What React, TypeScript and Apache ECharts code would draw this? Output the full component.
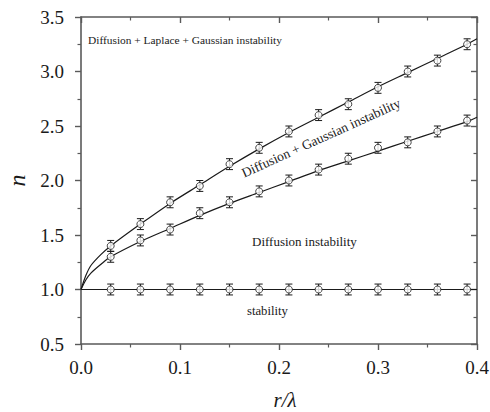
import React, { useEffect, useRef } from "react";
import * as echarts from "echarts";

// measured points (r/λ, n)
const xValues = [0.03, 0.06, 0.09, 0.12, 0.15, 0.18, 0.21, 0.24, 0.27, 0.3, 0.33, 0.36, 0.39];
const upperN = [1.4, 1.6, 1.8, 1.95, 2.15, 2.3, 2.45, 2.6, 2.7, 2.85, 3.0, 3.1, 3.25];
const middleN = [1.3, 1.45, 1.55, 1.7, 1.8, 1.9, 2.0, 2.1, 2.2, 2.3, 2.35, 2.45, 2.55];
const stableN = [1.0, 1.0, 1.0, 1.0, 1.0, 1.0, 1.0, 1.0, 1.0, 1.0, 1.0, 1.0, 1.0];
const errN = 0.05;

// fitted curves
const upperFitX = [0, 0.005, 0.01, 0.02, 0.03, 0.06, 0.09, 0.12, 0.15, 0.18, 0.21, 0.24, 0.27, 0.3, 0.33, 0.36, 0.39, 0.4];
const upperFitN = [1.0, 1.13, 1.22, 1.32, 1.4, 1.6, 1.79, 1.96, 2.13, 2.29, 2.44, 2.58, 2.72, 2.86, 2.99, 3.12, 3.25, 3.3];
const middleFitX = [0, 0.005, 0.01, 0.02, 0.03, 0.06, 0.09, 0.12, 0.15, 0.18, 0.21, 0.24, 0.27, 0.3, 0.33, 0.36, 0.39, 0.4];
const middleFitN = [1.0, 1.09, 1.15, 1.23, 1.3, 1.44, 1.56, 1.68, 1.79, 1.89, 1.99, 2.09, 2.18, 2.27, 2.36, 2.45, 2.54, 2.58];
const stableFitX = [0, 0.4];
const stableFitN = [1.0, 1.0];

const xTicks = { min: 0, max: 0.4, interval: 0.1 };
const yTicks = { min: 0.5, max: 3.5, interval: 0.5 };

const FONT = "'Liberation Serif', 'Times New Roman', 'DejaVu Serif', serif";
const AXIS_COLOR = "#5a5a5a";
const INK = "#1a1a1a";

function zip(xs: number[], ys: number[]) {
  return xs.map((x, i) => [x, ys[i]]);
}

export default function App() {
  const ref = useRef<HTMLDivElement>(null);
  useEffect(() => {
    if (!ref.current) return;
    const chart = echarts.init(ref.current, null, { renderer: "svg" });

    const axisCommon = (outside: boolean, showLabel: boolean) => ({
      axisLine: { show: true, onZero: false, lineStyle: { color: AXIS_COLOR, width: 1.6 } },
      axisTick: { show: true, inside: !outside, length: 6, lineStyle: { color: AXIS_COLOR, width: 1.4 } },
      minorTick: { show: true, splitNumber: 2, length: 3.5, lineStyle: { color: AXIS_COLOR, width: 1.2 } },
      splitLine: { show: false },
      axisLabel: {
        show: showLabel,
        fontFamily: FONT,
        fontSize: 19,
        color: INK,
        formatter: (v: number) => v.toFixed(1),
      },
    });

    const pointsSeries = (vals: number[]) => ({
      type: "scatter",
      data: zip(xValues, vals),
      symbol: "circle",
      symbolSize: 7,
      itemStyle: { color: "#fff", borderColor: INK, borderWidth: 1 },
      z: 5,
    });

    const errSeries = (vals: number[]) => ({
      type: "custom",
      data: zip(xValues, vals),
      z: 4,
      renderItem: (params: any, api: any) => {
        const x = api.value(0);
        const y = api.value(1);
        const top = api.coord([x, y + errN]);
        const bot = api.coord([x, y - errN]);
        const hw = 3.5;
        const style = { stroke: INK, lineWidth: 1 };
        return {
          type: "group",
          children: [
            { type: "line", shape: { x1: top[0], y1: top[1], x2: bot[0], y2: bot[1] }, style },
            { type: "line", shape: { x1: top[0] - hw, y1: top[1], x2: top[0] + hw, y2: top[1] }, style },
            { type: "line", shape: { x1: bot[0] - hw, y1: bot[1], x2: bot[0] + hw, y2: bot[1] }, style },
          ],
        };
      },
    });

    const fitSeries = (xs: number[], ys: number[]) => ({
      type: "line",
      data: zip(xs, ys),
      showSymbol: false,
      smooth: 0.3,
      lineStyle: { color: INK, width: 1.2 },
      z: 3,
    });

    chart.setOption({
      animation: false,
      textStyle: { fontFamily: FONT },
      grid: { left: 81, right: 13, top: 17, bottom: 68, containLabel: false, outerBoundsMode: "none" },
      xAxis: [
        {
          type: "value",
          position: "bottom",
          ...xTicks,
          ...axisCommon(true, true),
          axisLabel: { ...axisCommon(true, true).axisLabel, margin: 14 },
          name: "r/λ",
          nameLocation: "middle",
          nameGap: 45,
          nameTextStyle: { fontFamily: FONT, fontStyle: "italic", fontSize: 21, color: INK, padding: [0, 0, 0, 12] },
        },
        {
          type: "value",
          position: "top",
          ...xTicks,
          ...axisCommon(false, false),
        },
      ],
      yAxis: [
        {
          type: "value",
          position: "left",
          ...yTicks,
          ...axisCommon(true, true),
          axisLabel: { ...axisCommon(true, true).axisLabel, margin: 17 },
          name: "n",
          nameLocation: "middle",
          nameGap: 51,
          nameTextStyle: { fontFamily: FONT, fontStyle: "italic", fontSize: 24, color: INK },
        },
        {
          type: "value",
          position: "right",
          ...yTicks,
          ...axisCommon(false, false),
        },
      ],
      series: [
        fitSeries(upperFitX, upperFitN),
        fitSeries(middleFitX, middleFitN),
        fitSeries(stableFitX, stableFitN),
        errSeries(upperN),
        errSeries(middleN),
        errSeries(stableN),
        pointsSeries(upperN),
        pointsSeries(middleN),
        pointsSeries(stableN),
      ],
      graphic: [
        {
          type: "text",
          left: 88,
          top: 34,
          style: { text: "Diffusion + Laplace + Gaussian instability", fontFamily: FONT, fontSize: 11.4, fill: INK },
        },
        {
          type: "text",
          x: 321,
          y: 138,
          rotation: (24.4 * Math.PI) / 180,
          style: {
            text: "Diffusion + Gaussian instability",
            fontFamily: FONT,
            fontSize: 13.5,
            fill: INK,
            align: "center",
            verticalAlign: "middle",
          },
        },
        {
          type: "text",
          left: 252,
          top: 235,
          style: { text: "Diffusion instability", fontFamily: FONT, fontSize: 13, fill: INK },
        },
        {
          type: "text",
          left: 247,
          top: 304,
          style: { text: "stability", fontFamily: FONT, fontSize: 12.7, fill: INK },
        },
      ],
    });
    return () => chart.dispose();
  }, []);
  return <div ref={ref} style={{ width: 490, height: 412, position: "absolute", left: 0, top: 0 }} />;
}
